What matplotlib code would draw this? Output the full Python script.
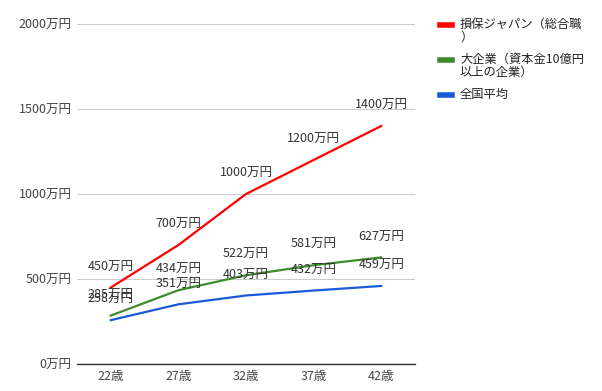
import matplotlib.pyplot as plt
from matplotlib.lines import Line2D
import numpy as np

plt.rcParams['font.family'] = ['Noto Sans CJK JP', 'DejaVu Sans']

# データ
ages = ['22歳', '27歳', '32歳', '37歳', '42歳']
sompo = [450, 700, 1000, 1200, 1400]
big_corp = [285, 434, 522, 581, 627]
national = [258, 351, 403, 432, 459]
yticks = [0, 500, 1000, 1500, 2000]
names = ['損保ジャパン（総合職\n）', '大企業（資本金10億円\n以上の企業）', '全国平均']
colors = ['#ff0000', '#3f8a2c', '#1a5ad7']

W, H = 602, 391
fig = plt.figure(figsize=(W/100, H/100), dpi=100)
ax = fig.add_axes([77/W, 1-364/H, (415-77)/W, (364-24)/H])

x = np.arange(len(ages))
for vals, c in zip([sompo, big_corp, national], colors):
    ax.plot(x, vals, color=c, lw=1.6, zorder=3)
    for xi, v in zip(x, vals):
        ax.annotate(f'{v}万円', (xi, v), xytext=(0, 10), textcoords='offset points',
                    ha='center', va='bottom', fontsize=9, color='#333333', zorder=4)

ax.set_xlim(-0.5, 4.5)
ax.set_ylim(0, 2000)
ax.set_xticks(x)
ax.set_xticklabels(ages, fontsize=9, color='#444444')
ax.set_yticks(yticks)
ax.set_yticklabels([f'{v}万円' for v in yticks], fontsize=9, color='#444444')
ax.tick_params(length=0, pad=4)
ax.grid(axis='y', color='#cccccc', lw=0.8, zorder=0)
for s in ['top', 'right', 'left']:
    ax.spines[s].set_visible(False)
ax.spines['bottom'].set_color('#333333')
ax.spines['bottom'].set_linewidth(1)

# 凡例（ハンドルは1行目に揃える）
leg_y = [25, 60, 95]
for y, name, c in zip(leg_y, names, colors):
    fig.add_artist(Line2D([440/W, 452/W], [1-y/H, 1-y/H], color=c, lw=4))
    fig.text(460/W, 1-(y-7)/H, name, fontsize=8.8, color='#222222',
             ha='left', va='top', linespacing=0.95)

fig.savefig('out.png', dpi=100)
